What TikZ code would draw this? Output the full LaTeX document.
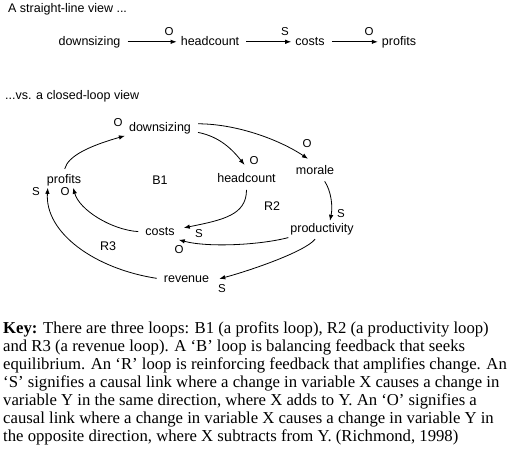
\documentclass[tikz,border=0pt]{standalone}
\usepackage{fontspec}
\setmainfont{Liberation Serif}
\setsansfont{Liberation Sans}
\usetikzlibrary{arrows.meta}

\begin{document}
\begin{tikzpicture}[x=1pt,y=1pt,
    var/.style={font=\sffamily\fontsize{12.5}{15}\selectfont,anchor=base,
        text height=9pt,text depth=2.6pt,inner xsep=4pt,inner ysep=2pt},
    sign/.style={font=\sffamily\fontsize{11.5}{14}\selectfont,inner sep=0pt},
    link/.style={line width=0.8pt,-{Latex[length=6pt,width=4.5pt]},shorten <=3pt}]
    \useasboundingbox (0,0) rectangle (511,-451);

    % straight-line view
    \node[var,anchor=base west,inner sep=0pt] (title1) at (8,-12) {A straight-line view ...};
    \node[var] (down1) at (89.5,-45) {downsizing};
    \node[var] (head1) at (210,-45) {headcount};
    \node[var] (cost1) at (310,-45) {costs};
    \node[var] (prof1) at (399,-45) {profits};

    \draw[link] (down1) -- (head1);
    \draw[link] (head1) -- (cost1);
    \draw[link] (cost1) -- (prof1);
    \node[sign] (s1) at (169,-32) {O};
    \node[sign] (s2) at (285,-32) {S};
    \node[sign] (s3) at (369,-32) {O};

    % closed-loop view
    \node[var,anchor=base west,inner sep=0pt] (title2) at (5,-99) {...vs. a closed-loop view};
    \node[var] (down) at (160,-131) {downsizing};
    \node[var] (head) at (246.5,-182) {headcount};
    \node[var] (morale) at (315,-174) {morale};
    \node[var] (prod) at (322,-232) {productivity};
    \node[var] (cost) at (160,-235) {costs};
    \node[var] (prof) at (64,-183) {profits};
    \node[var] (rev) at (186.5,-282) {revenue};

    \draw[link] (prof.north) .. controls +(4,16) and +(-35,-10) .. (down.south west);
    \draw[link] ([yshift=-4pt]down.east) .. controls +(25,-5) and +(-12,15) .. ([xshift=-2pt,yshift=6pt]head.north);
    \draw[link] ([yshift=4pt]down.east) .. controls +(40,0) and +(-30,20) .. ([xshift=-7pt,yshift=4pt]morale.north);
    \draw[link] ([xshift=8pt]morale.south) .. controls +(8,-12) and +(3,15) .. ([xshift=8pt]prod.north);
    \draw[link] (head.south) .. controls +(0,-28) and +(40,8) .. ([xshift=5pt,yshift=4pt]cost.east);
    \draw[link] ([xshift=5pt]prod.south west) .. controls +(-30,-8) and +(30,-8) .. (cost.south east);
    \draw[link] (cost.west) .. controls +(-30,2) and +(6,-22) .. ([xshift=-12pt]prof.south east);
    \draw[link] ([xshift=-5pt]prod.south) .. controls +(-12,-15) and +(30,8) .. ([xshift=6pt]rev.east);
    \draw[link] (rev.west) .. controls +(-65,10) and +(-3,-45) .. ([xshift=5pt]prof.south west);

    \node[sign] (o1) at (118,-123) {O};
    \node[sign] (o2) at (254,-161) {O};
    \node[sign] (o3) at (307,-144) {O};
    \node[sign] (s4) at (341,-214) {S};
    \node[sign] (s5) at (199,-234) {S};
    \node[sign] (o4) at (179,-250) {O};
    \node[sign] (o5) at (65,-192) {O};
    \node[sign] (s6) at (36,-192) {S};
    \node[sign] (s7) at (222,-289) {S};

    \node[var] (B1) at (160,-184) {B1};
    \node[var] (R2) at (272,-210) {R2};
    \node[var] (R3) at (108,-250) {R3};

    % key
    \node[anchor=north west,inner sep=0pt,align=left,font=\fontsize{16.7}{17.9}\selectfont] (key) at (3,-322)
        {\textbf{Key:} There are three loops: B1 (a profits loop), R2 (a productivity loop)\\
        and R3 (a revenue loop). A `B' loop is balancing feedback that seeks\\
        equilibrium. An `R' loop is reinforcing feedback that amplifies change. An\\
        `S' signifies a causal link where a change in variable X causes a change in\\
        variable Y in the same direction, where X adds to Y. An `O' signifies a\\
        causal link where a change in variable X causes a change in variable Y in\\
        the opposite direction, where X subtracts from Y. (Richmond, 1998)};
\end{tikzpicture}
\end{document}
